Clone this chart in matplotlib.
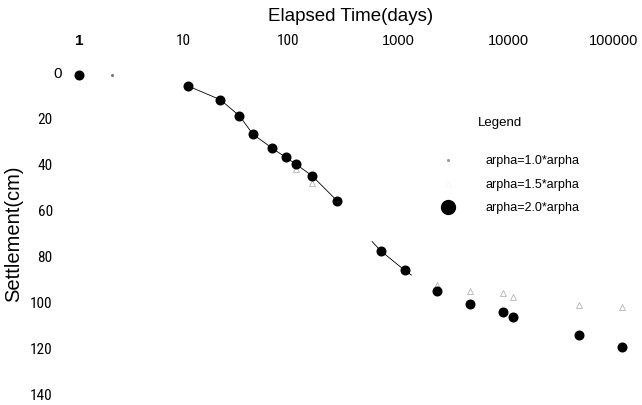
import numpy as np
import matplotlib.pyplot as plt
from matplotlib.lines import Line2D
from matplotlib.transforms import ScaledTranslation

# settlement records, arpha = 2.0*arpha (solid dots)
t_20 = [1, 10, 20, 30, 40, 60, 80, 100, 140, 240, 600, 1000, 2000, 4000, 8000, 10000, 40000, 100000]
s_20 = [1.5, 6, 12, 19, 27, 33, 37, 40, 45, 56, 77.5, 86, 95, 100.5, 104, 106, 114, 119]

# arpha = 1.5*arpha (open markers)
t_15 = [100, 140, 2000, 4000, 8000, 10000, 40000, 100000]
s_15 = [42, 48, 92.5, 95, 96, 97.5, 101, 102]

# arpha = 1.0*arpha (small dots)
t_10 = [2]
s_10 = [1.5]

# curve through the measured points
t_line1 = [10, 20, 30, 40, 60, 80, 100, 140, 240]
s_line1 = [6, 12, 19, 27, 33, 37, 40, 45, 56]
t_line2 = [500, 600, 1000, 1150]
s_line2 = [73.5, 77.5, 86, 88]

x_ticks = [1, 10, 100, 1000, 10000, 100000]
x_labels = ['1', '10', '100', '1000', '10000', '100000']
y_ticks = [0, 20, 40, 60, 80, 100, 120, 140]

plt.rcParams['font.family'] = ['Liberation Sans', 'DejaVu Sans']
narrow = ['Liberation Sans Narrow', 'Arial Narrow', 'Roboto Condensed', 'Archivo Narrow',
          'PT Sans Narrow', 'Open Sans Condensed', 'Liberation Sans']

fig = plt.figure(figsize=(6.42, 4.05), dpi=100)
ax = fig.add_axes([0.1231, 0.0247, 0.9688 - 0.1231, 0.8222 - 0.0247])

ax.plot(t_line1, s_line1, color='black', lw=0.6, clip_on=False)
ax.plot(t_line2, s_line2, color='black', lw=0.6, clip_on=False)
ax.plot(t_15, s_15, ls='none', marker='^', ms=4.5, mfc='none', mec='#a8a8a8', mew=0.5, clip_on=False)
ax.plot(t_10, s_10, ls='none', marker='o', ms=1.2, color='#777777', clip_on=False)
ax.plot(t_20, s_20, ls='none', marker='o', ms=6.2, color='black', clip_on=False)

ax.set_xscale('log')
ax.set_xlim(1, 100000)
ax.set_ylim(140, 0)
ax.set_xticks(x_ticks)
ax.set_xticklabels(x_labels)
ax.set_yticks(y_ticks)
ax.minorticks_off()
ax.xaxis.tick_top()
ax.tick_params(axis='x', length=0, pad=17, labelsize=10.5)
ax.tick_params(axis='y', length=0, pad=19, labelsize=10.5)
for s in ax.spines.values():
    s.set_visible(False)

# small horizontal nudges (pixels) of the top labels
x_shift = {'1': 0, '10': -4, '100': -8, '1000': -6, '10000': -5, '100000': -8}
for lab in ax.get_xticklabels():
    txt = lab.get_text()
    if txt == '1':
        lab.set_fontweight('bold')
        lab.set_fontsize(11)
    elif txt in ('10', '100'):
        lab.set_family(narrow)
        lab.set_fontsize(11)
    lab.set_transform(lab.get_transform() + ScaledTranslation(x_shift[txt] / 100, 0, fig.dpi_scale_trans))
for lab in ax.get_yticklabels():
    if lab.get_text() == '0':
        lab.set_fontsize(11)
        lab.set_transform(lab.get_transform() + ScaledTranslation(9 / 100, 0, fig.dpi_scale_trans))
    else:
        lab.set_family(narrow)
        lab.set_fontsize(11)

ax.xaxis.set_label_position('top')
ax.set_xlabel('Elapsed Time(days)', fontsize=13.5, labelpad=10)
ax.set_ylabel('Settlement(cm)', fontsize=14.5, labelpad=5)

handles = [
    Line2D([], [], ls='none', marker='o', ms=1.2, color='#999999'),
    Line2D([], [], ls='none', marker='^', ms=4.5, mfc='none', mec='#f4f4f4', mew=0.5),
    Line2D([], [], ls='none', marker='o', ms=10, color='black'),
]
labels = ['arpha=1.0*arpha', 'arpha=1.5*arpha', 'arpha=2.0*arpha']
fig.legend(handles, labels, loc='upper left', bbox_to_anchor=(0.665, 0.644),
           frameon=False, fontsize=9, handlelength=1.5, handletextpad=2.3,
           labelspacing=0.92, borderpad=0.4)
fig.text(500 / 642, 1 - 123 / 405, 'Legend', fontsize=9.5, ha='center', va='center')

fig.savefig('out.png', dpi=100)
